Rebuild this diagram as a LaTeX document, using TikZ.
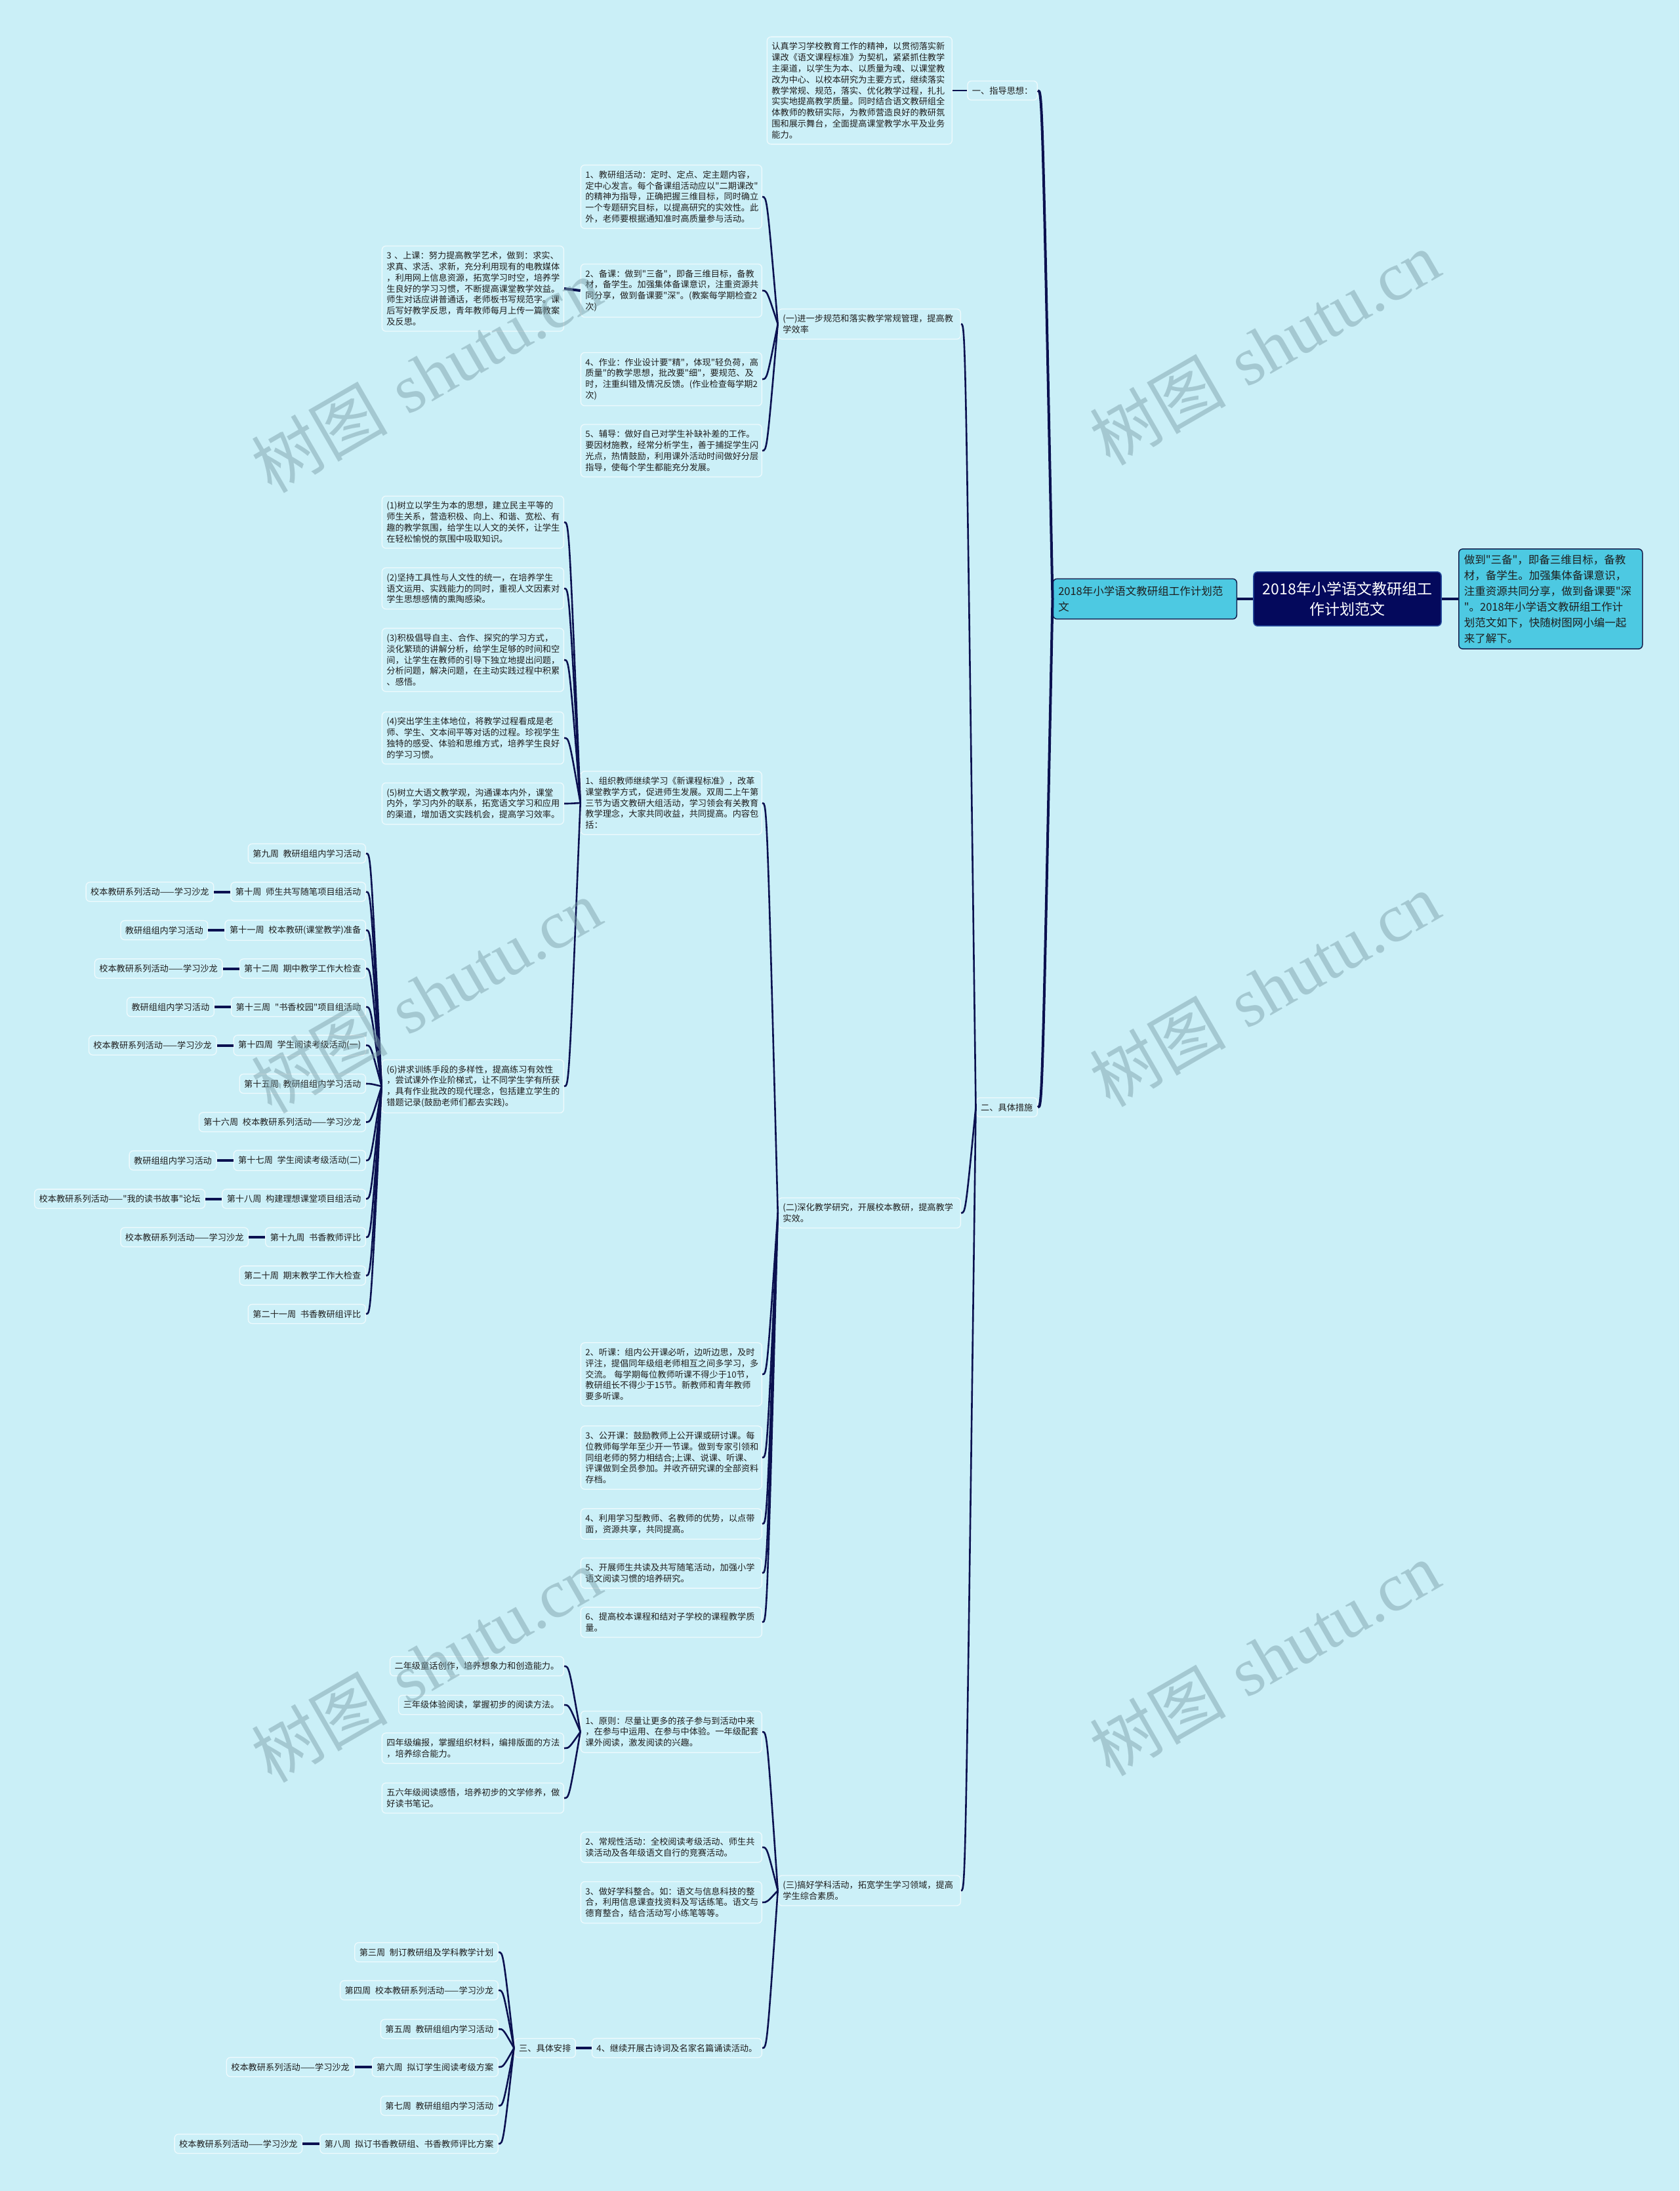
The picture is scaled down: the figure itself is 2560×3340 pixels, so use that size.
\documentclass[tikz,border=0pt]{standalone}
\usepackage{fontspec}
\newfontfamily\cjk{Noto Sans CJK SC}
\newfontfamily\wmlat{Liberation Serif}
\usetikzlibrary{calc}
\definecolor{bgc}{HTML}{CAEFF7}
\definecolor{boxfill}{HTML}{CCF0F8}
\definecolor{boxline}{HTML}{EEFAFD}
\definecolor{lnk}{HTML}{0B1150}
\definecolor{txt}{HTML}{1E1E1E}
\definecolor{rootfill}{HTML}{04095C}
\definecolor{rootline}{HTML}{2A4FA0}
\definecolor{midfill}{HTML}{4DC9E2}
\definecolor{midline}{HTML}{14204E}
\definecolor{wmc}{HTML}{7FA3AD}
\newcommand\lk[3][]{\draw[conn,#1] let \p1=(#2.west), \p2=(#3.east) in (\p1) .. controls ({\x2+0.3*(\x1-\x2)},\y2) .. (\p2);}
\begin{document}
\begin{tikzpicture}[x=1pt,y=-1pt,
 box/.style={draw=boxline, fill=boxfill, line width=1.3pt, rounded corners=6pt, text=txt, font=\cjk\fontsize{13.2}{16.8}\selectfont, inner xsep=7pt, inner ysep=8.5pt, align=left},
 para/.style={box, text width=#1},
 conn/.style={draw=lnk, line width=2.6pt},
 thk/.style={draw=lnk, line width=4pt},
 rootbox/.style={draw=rootline, fill=rootfill, line width=1.5pt, rounded corners=6pt, text=white, font=\cjk\fontsize{23}{31}\selectfont, inner xsep=14pt, inner ysep=15pt, align=center},
 midbox/.style={draw=midline, fill=midfill, line width=1.5pt, rounded corners=6pt, text=txt, font=\cjk\fontsize{16.5}{24}\selectfont, inner xsep=8pt, align=left, text width=264pt},
 wm/.style={rotate=30, text=wmc, text opacity=0.5, font=\cjk\fontsize{104}{104}\selectfont}
]
\useasboundingbox[fill=bgc] (0,0) rectangle (2560,3340);

% root level
\node[rootbox] (root) at (2054,913) {2018年小学语文教研组工\\作计划范文};
\node[midbox, anchor=west, inner ysep=8.5pt] (desc) at (2223,913) {做到"三备"，即备三维目标，备教\\材，备学生。加强集体备课意识，\\注重资源共同分享，做到备课要"深\\"。2018年小学语文教研组工作计\\划范文如下，快随树图网小编一起\\来了解下。};
\node[midbox, anchor=east, inner ysep=11pt] (br) at (1886,913) {2018年小学语文教研组工作计划范\\文};

\node[box, anchor=east] (l1) at (1582,138) {一、指导思想：};
\node[box, anchor=east] (l2) at (1582,1688) {二、具体措施};

\node[para=268pt, anchor=east] (t1) at (1452,138) {认真学习学校教育工作的精神，以贯彻落实新\\课改《语文课程标准》为契机，紧紧抓住教学\\主渠道，以学生为本、以质量为魂、以课堂教\\改为中心、以校本研究为主要方式，继续落实\\教学常规、规范，落实、优化教学过程，扎扎\\实实地提高教学质量。同时结合语文教研组全\\体教师的教研实际，为教师营造良好的教研氛\\围和展示舞台，全面提高课堂教学水平及业务\\能力。};

\node[para=264pt, anchor=east] (s1) at (1465,494) {(一)进一步规范和落实教学常规管理，提高教\\学效率};
\node[para=264pt, anchor=east] (s2) at (1465,1849) {(二)深化教学研究，开展校本教研，提高教学\\实效。};
\node[para=264pt, anchor=east] (s3) at (1465,2882) {(三)搞好学科活动，拓宽学生学习领域，提高\\学生综合素质。};

% section 1
\node[para=262pt, anchor=east] (a1) at (1162,300) {1、教研组活动：定时、定点、定主题内容，\\定中心发言。每个备课组活动应以"二期课改"\\的精神为指导，正确把握三维目标，同时确立\\一个专题研究目标，以提高研究的实效性。此\\外，老师要根据通知准时高质量参与活动。};
\node[para=262pt, anchor=east] (a2) at (1162,443) {2、备课：做到"三备"，即备三维目标，备教\\材，备学生。加强集体备课意识，注重资源共\\同分享，做到备课要"深"。(教案每学期检查2\\次)};
\node[para=262pt, anchor=east] (a4) at (1162,578) {4、作业：作业设计要"精"，体现"轻负荷，高\\质量"的教学思想，批改要"细"，要规范、及\\时，注重纠错及情况反馈。(作业检查每学期2\\次)};
\node[para=262pt, anchor=east] (a5) at (1162,687) {5、辅导：做好自己对学生补缺补差的工作。\\要因材施教，经常分析学生，善于捕捉学生闪\\光点，热情鼓励，利用课外活动时间做好分层\\指导，使每个学生都能充分发展。};
\node[para=263pt, anchor=east] (a3) at (860,440) {3 、上课：努力提高教学艺术，做到：求实、\\求真、求活、求新，充分利用现有的电教媒体\\，利用网上信息资源，拓宽学习时空，培养学\\生良好的学习习惯，不断提高课堂教学效益。\\师生对话应讲普通话，老师板书写规范字。课\\后写好教学反思，青年教师每月上传一篇教案\\及反思。};

% section 2
\node[para=262pt, anchor=east] (b1) at (1162,1224) {1、组织教师继续学习《新课程标准》，改革\\课堂教学方式，促进师生发展。双周二上午第\\三节为语文教研大组活动，学习领会有关教育\\教学理念，大家共同收益，共同提高。内容包\\括：};
\node[para=262pt, anchor=east] (b2) at (1162,2095) {2、听课：组内公开课必听，边听边思，及时\\评注，提倡同年级组老师相互之间多学习，多\\交流。 每学期每位教师听课不得少于10节，\\教研组长不得少于15节。新教师和青年教师\\要多听课。};
\node[para=262pt, anchor=east] (b3) at (1162,2222) {3、公开课：鼓励教师上公开课或研讨课。每\\位教师每学年至少开一节课。做到专家引领和\\同组老师的努力相结合;上课、说课、听课、\\评课做到全员参加。并收齐研究课的全部资料\\存档。};
\node[para=262pt, anchor=east] (b4) at (1162,2323) {4、利用学习型教师、名教师的优势，以点带\\面，资源共享，共同提高。};
\node[para=262pt, anchor=east] (b5) at (1162,2398) {5、开展师生共读及共写随笔活动，加强小学\\语文阅读习惯的培养研究。};
\node[para=262pt, anchor=east] (b6) at (1162,2473) {6、提高校本课程和结对子学校的课程教学质\\量。};

\node[para=263pt, anchor=east] (c1) at (860,796) {(1)树立以学生为本的思想，建立民主平等的\\师生关系，营造积极、向上、和谐、宽松、有\\趣的教学氛围，给学生以人文的关怀，让学生\\在轻松愉悦的氛围中吸取知识。};
\node[para=263pt, anchor=east] (c2) at (860,897) {(2)坚持工具性与人文性的统一，在培养学生\\语文运用、实践能力的同时，重视人文因素对\\学生思想感情的熏陶感染。};
\node[para=263pt, anchor=east] (c3) at (860,1006) {(3)积极倡导自主、合作、探究的学习方式，\\淡化繁琐的讲解分析，给学生足够的时间和空\\间，让学生在教师的引导下独立地提出问题，\\分析问题，解决问题，在主动实践过程中积累\\、感悟。};
\node[para=263pt, anchor=east] (c4) at (860,1125) {(4)突出学生主体地位，将教学过程看成是老\\师、学生、文本间平等对话的过程。珍视学生\\独特的感受、体验和思维方式，培养学生良好\\的学习习惯。};
\node[para=263pt, anchor=east] (c5) at (860,1225) {(5)树立大语文教学观，沟通课本内外，课堂\\内外，学习内外的联系，拓宽语文学习和应用\\的渠道，增加语文实践机会，提高学习效率。};
\node[para=263pt, anchor=east] (c6) at (860,1656) {(6)讲求训练手段的多样性，提高练习有效性\\，尝试课外作业阶梯式，让不同学生学有所获\\，具有作业批改的现代理念，包括建立学生的\\错题记录(鼓励老师们都去实践)。};

% weeks 9-21
\node[box, anchor=east] (w9) at (558,1301) {第九周\enspace 教研组组内学习活动};
\node[box, anchor=east] (w10) at (558,1359.5) {第十周\enspace 师生共写随笔项目组活动};
\node[box, anchor=east] (w11) at (558,1418) {第十一周\enspace 校本教研(课堂教学)准备};
\node[box, anchor=east] (w12) at (558,1476.5) {第十二周\enspace 期中教学工作大检查};
\node[box, anchor=east] (w13) at (558,1535) {第十三周\enspace "书香校园"项目组活动};
\node[box, anchor=east] (w14) at (558,1593.5) {第十四周\enspace 学生阅读考级活动(一)};
\node[box, anchor=east] (w15) at (558,1652) {第十五周\enspace 教研组组内学习活动};
\node[box, anchor=east] (w16) at (558,1710.5) {第十六周\enspace 校本教研系列活动——学习沙龙};
\node[box, anchor=east] (w17) at (558,1769) {第十七周\enspace 学生阅读考级活动(二)};
\node[box, anchor=east] (w18) at (558,1827.5) {第十八周\enspace 构建理想课堂项目组活动};
\node[box, anchor=east] (w19) at (558,1886) {第十九周\enspace 书香教师评比};
\node[box, anchor=east] (w20) at (558,1944.5) {第二十周\enspace 期末教学工作大检查};
\node[box, anchor=east] (w21) at (558,2003) {第二十一周\enspace 书香教研组评比};

\node[box, anchor=east] (p10) at ($(w10.west)+(-25,0)$) {校本教研系列活动——学习沙龙};
\node[box, anchor=east] (p11) at ($(w11.west)+(-25,0)$) {教研组组内学习活动};
\node[box, anchor=east] (p12) at ($(w12.west)+(-25,0)$) {校本教研系列活动——学习沙龙};
\node[box, anchor=east] (p13) at ($(w13.west)+(-25,0)$) {教研组组内学习活动};
\node[box, anchor=east] (p14) at ($(w14.west)+(-25,0)$) {校本教研系列活动——学习沙龙};
\node[box, anchor=east] (p17) at ($(w17.west)+(-25,0)$) {教研组组内学习活动};
\node[box, anchor=east] (p18) at ($(w18.west)+(-25,0)$) {校本教研系列活动——"我的读书故事"论坛};
\node[box, anchor=east] (p19) at ($(w19.west)+(-25,0)$) {校本教研系列活动——学习沙龙};

% section 3
\node[para=262pt, anchor=east] (e1) at (1162,2640) {1、原则：尽量让更多的孩子参与到活动中来\\，在参与中运用、在参与中体验。一年级配套\\课外阅读，激发阅读的兴趣。};
\node[para=262pt, anchor=east] (e2) at (1162,2816) {2、常规性活动：全校阅读考级活动、师生共\\读活动及各年级语文自行的竞赛活动。};
\node[para=262pt, anchor=east] (e3) at (1162,2900) {3、做好学科整合。如：语文与信息科技的整\\合，利用信息课查找资料及写话练笔。语文与\\德育整合，结合活动写小练笔等等。};
\node[box, anchor=east] (h) at (1162,3122) {4、继续开展古诗词及名家名篇诵读活动。};

\node[box, anchor=east] (d1) at (860,2540) {二年级童话创作，培养想象力和创造能力。};
\node[box, anchor=east] (d2) at (860,2599) {三年级体验阅读，掌握初步的阅读方法。};
\node[para=263pt, anchor=east] (d3) at (860,2665) {四年级编报，掌握组织材料，编排版面的方法\\，培养综合能力。};
\node[para=263pt, anchor=east] (d4) at (860,2741) {五六年级阅读感悟，培养初步的文学修养，做\\好读书笔记。};

\node[box, anchor=east] (g) at (878,3122) {三、具体安排};
\node[box, anchor=east] (f1) at (760,2976) {第三周\enspace 制订教研组及学科教学计划};
\node[box, anchor=east] (f2) at (760,3034) {第四周\enspace 校本教研系列活动——学习沙龙};
\node[box, anchor=east] (f3) at (760,3093) {第五周\enspace 教研组组内学习活动};
\node[box, anchor=east] (f4) at (760,3151) {第六周\enspace 拟订学生阅读考级方案};
\node[box, anchor=east] (f5) at (760,3210) {第七周\enspace 教研组组内学习活动};
\node[box, anchor=east] (f6) at (760,3268) {第八周\enspace 拟订书香教研组、书香教师评比方案};
\node[box, anchor=east] (q4) at ($(f4.west)+(-26,0)$) {校本教研系列活动——学习沙龙};
\node[box, anchor=east] (q6) at ($(f6.west)+(-26,0)$) {校本教研系列活动——学习沙龙};

% connectors
\draw[thk] (root.west) -- (br.east);
\draw[thk] (root.east) -- (desc.west);
\lk[thk]{br}{l1}
\lk[thk]{br}{l2}
\draw[conn] (l1.west) -- (t1.east);
\lk{l2}{s1} \lk{l2}{s2} \lk{l2}{s3}
\lk{s1}{a1} \lk{s1}{a2} \lk{s1}{a4} \lk{s1}{a5}
\draw[thk] (a2.west) -- (a3.east);
\lk{s2}{b1} \lk{s2}{b2} \lk{s2}{b3} \lk{s2}{b4} \lk{s2}{b5} \lk{s2}{b6}
\lk{b1}{c1} \lk{b1}{c2} \lk{b1}{c3} \lk{b1}{c4} \lk{b1}{c5} \lk{b1}{c6}
\foreach \w in {w9,w10,w11,w12,w13,w14,w15,w16,w17,w18,w19,w20,w21} {\lk{c6}{\w}}
\foreach \n in {10,11,12,13,14,17,18,19} {\draw[thk] (w\n.west) -- (p\n.east);}
\lk{s3}{e1} \lk{s3}{e2} \lk{s3}{e3} \lk{s3}{h}
\lk{e1}{d1} \lk{e1}{d2} \lk{e1}{d3} \lk{e1}{d4}
\draw[thk] (h.west) -- (g.east);
\foreach \f in {f1,f2,f3,f4,f5,f6} {\lk{g}{\f}}
\draw[thk] (f4.west) -- (q4.east);
\draw[thk] (f6.west) -- (q6.east);

% watermarks
\node[wm] (wm1) at (650,572) {树图\hspace{0.3em}{\wmlat shutu.cn}};
\node[wm] (wm2) at (1928,530) {树图\hspace{0.3em}{\wmlat shutu.cn}};
\node[wm] (wm3) at (650,1518) {树图\hspace{0.3em}{\wmlat shutu.cn}};
\node[wm] (wm4) at (1928,1508) {树图\hspace{0.3em}{\wmlat shutu.cn}};
\node[wm] (wm5) at (650,2538) {树图\hspace{0.3em}{\wmlat shutu.cn}};
\node[wm] (wm6) at (1928,2528) {树图\hspace{0.3em}{\wmlat shutu.cn}};
\end{tikzpicture}
\end{document}
